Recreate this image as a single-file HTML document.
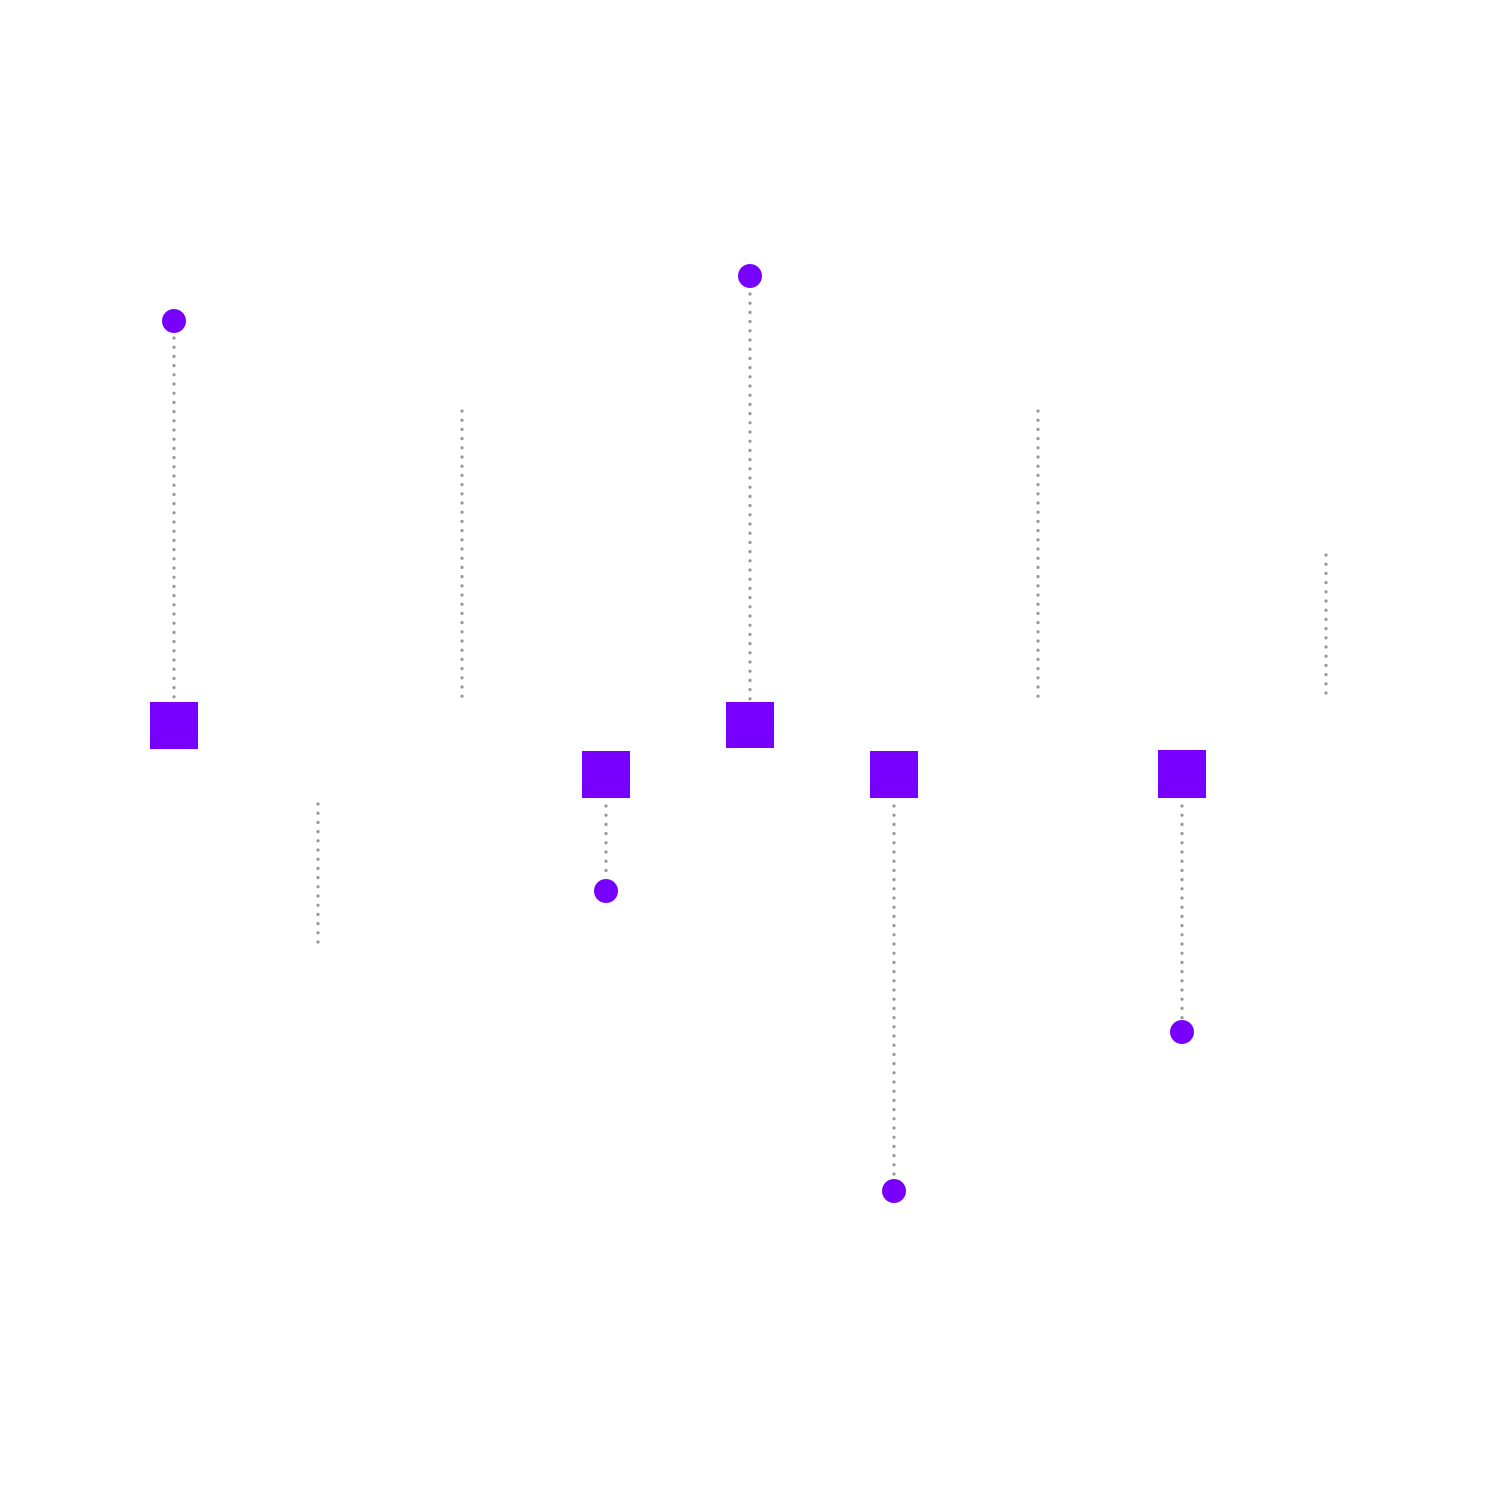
<!DOCTYPE html>
<html><head><meta charset="utf-8"><style>html,body{margin:0;padding:0;background:#fff}svg{display:block}</style></head>
<body>
<svg width="1500" height="1500" viewBox="0 0 1500 1500" xmlns="http://www.w3.org/2000/svg">
<rect width="1500" height="1500" fill="#fff"/>
<g stroke="#999" stroke-width="3.2" stroke-linecap="round" stroke-dasharray="0 9.2" fill="none">
<line x1="174" y1="338" x2="174" y2="700"/>
<line x1="462" y1="411" x2="462" y2="700"/>
<line x1="318" y1="804" x2="318" y2="942"/>
<line x1="606" y1="806" x2="606" y2="876"/>
<line x1="750" y1="294" x2="750" y2="700"/>
<line x1="894" y1="806" x2="894" y2="1176"/>
<line x1="1038" y1="411" x2="1038" y2="700"/>
<line x1="1182" y1="806" x2="1182" y2="1018"/>
<line x1="1326" y1="555" x2="1326" y2="695"/>
</g>
<g fill="#7700ff">
<circle cx="174" cy="321" r="12"/>
<rect x="150" y="702" width="48" height="47"/>
<rect x="582" y="751" width="48" height="47"/>
<circle cx="606" cy="891" r="12"/>
<circle cx="750" cy="276" r="12"/>
<rect x="726" y="702" width="48" height="46"/>
<rect x="870" y="751" width="48" height="47"/>
<circle cx="894" cy="1191" r="12"/>
<rect x="1158" y="750" width="48" height="48"/>
<circle cx="1182" cy="1032" r="12"/>
</g>
</svg>
</body></html>
